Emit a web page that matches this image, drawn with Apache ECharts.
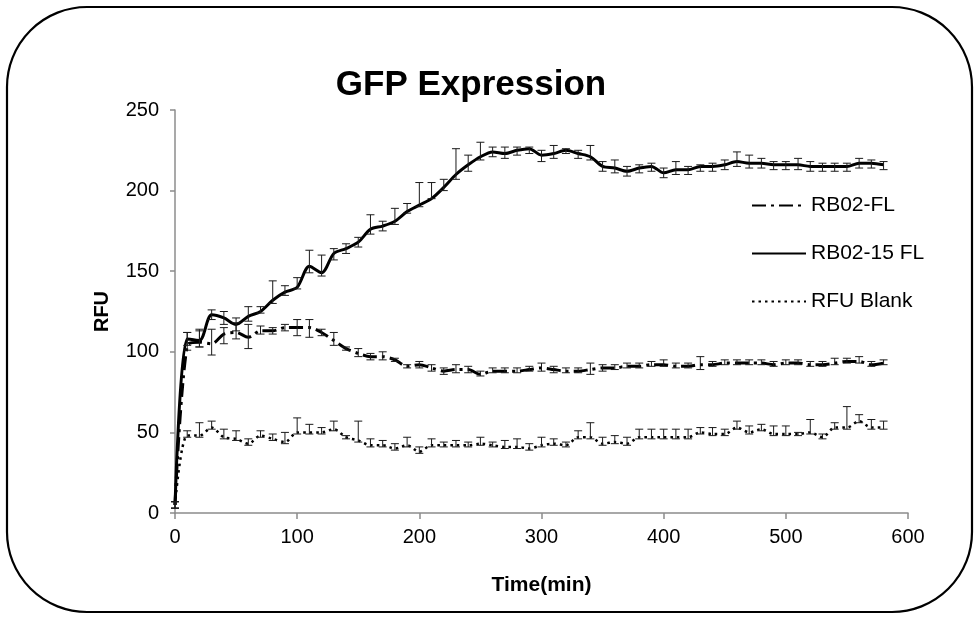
<!DOCTYPE html>
<html>
<head>
<meta charset="utf-8">
<script src="https://cdn.jsdelivr.net/npm/echarts@6/dist/echarts.min.js"></script>
<style>
html,body{margin:0;padding:0;background:#fff;}
#chart{width:976px;height:622px;}
</style>
</head>
<body>
<div id="chart"></div>
<script>
const times = [0,10,20,30,40,50,60,70,80,90,
  100,110,120,130,140,150,160,170,180,190,
  200,210,220,230,240,250,260,270,280,290,
  300,310,320,330,340,350,360,370,380,390,
  400,410,420,430,440,450,460,470,480,490,
  500,510,520,530,540,550,560,570,580];

const seriesNames = ['RB02-FL', 'RB02-15 FL', 'RFU Blank'];

const rb02FL = [5,104,106,105,111,112,109,113,113,115,
  115,115,112,107,102,99,97,97,95,91,
  92,90,88,89,89,86,88,88,88,89,
  90,89,88,88,89,90,90,91,91,92,
  92,91,91,92,92,93,93,93,93,92,
  93,93,92,92,93,94,94,92,93];
const rb02FLHi = [2,8,8,9,4,6,8,3,2,2,
  5,5,2,5,1,3,2,3,1,1,
  2,2,2,3,2,2,2,2,2,2,
  3,2,2,2,4,2,2,2,2,2,
  3,2,2,5,2,2,2,2,2,2,
  2,2,2,2,3,2,3,2,2];
const rb02FLLo = [2,3,3,7,6,4,7,2,2,2,
  5,6,2,3,1,2,2,2,1,1,
  2,2,2,2,2,1,1,1,1,1,
  2,2,1,1,3,2,1,1,1,1,
  1,1,1,3,1,1,1,1,1,1,
  1,1,1,1,1,1,1,1,1];

const rb0215FL = [5,108,107,123,121,117,122,125,132,137,
  140,153,149,161,164,168,176,178,181,187,
  191,195,202,210,216,221,224,223,225,226,
  222,223,225,223,221,215,214,212,214,215,
  211,213,213,215,215,216,218,217,217,216,
  216,216,215,215,215,215,217,217,216];
const rb0215FLHi = [2,4,6,3,4,4,6,3,12,4,
  6,10,11,3,3,3,9,3,8,5,
  14,10,5,16,6,9,3,4,2,1,
  3,5,1,2,7,3,5,3,2,2,
  3,5,2,1,2,3,6,5,3,2,
  2,4,3,2,2,2,3,2,2];
const rb0215FLLo = [2,4,4,3,4,4,3,1,2,2,
  1,4,2,4,3,3,3,3,2,1,
  1,0,2,3,4,2,3,3,3,3,
  4,3,2,3,2,3,3,3,3,3,
  3,3,3,3,3,3,3,3,3,3,
  3,3,3,3,3,3,3,3,3];

const blank = [5,48,48,53,47,46,43,48,46,44,
  50,50,50,52,47,45,42,42,40,42,
  38,42,42,42,42,43,42,41,41,40,
  42,43,42,47,47,43,44,43,47,47,
  47,47,47,50,49,49,53,50,52,49,
  49,49,50,47,53,53,57,53,53];
const blankHi = [2,3,8,4,5,5,3,3,3,6,
  9,5,3,5,1,12,4,3,3,5,
  3,4,2,3,2,4,2,4,5,3,
  5,3,2,4,9,4,4,4,5,5,
  5,5,5,3,4,3,4,4,3,5,
  5,1,8,2,3,13,4,5,4];
const blankLo = [2,1,1,1,1,1,1,1,1,1,
  1,1,1,1,1,1,1,1,1,1,
  1,1,1,1,1,1,1,1,1,1,
  1,1,1,1,1,1,1,1,1,1,
  1,1,1,1,1,1,1,1,1,1,
  1,1,1,1,1,1,1,1,1];

const xTicks = [0,100,200,300,400,500,600];
const yTicks = [0,50,100,150,200,250];

const FONT = '"Liberation Sans", Arial, sans-serif';

function pts(vals){ return times.map((t,i)=>[t, vals[i]]); }
function errData(vals, hi, lo){ return times.map((t,i)=>[t, vals[i]-lo[i], vals[i]+hi[i]]); }

function errSeries(vals, hi, lo){
  return {
    type: 'custom',
    silent: true,
    z: 5,
    data: errData(vals, hi, lo),
    encode: {x: 0, y: [1, 2]},
    renderItem: function(params, api){
      const x = api.value(0);
      const top = api.coord([x, api.value(2)]);
      const bot = api.coord([x, api.value(1)]);
      const w = 4;
      const st = {stroke: '#1a1a1a', lineWidth: 1};
      return {type: 'group', children: [
        {type: 'line', shape: {x1: top[0], y1: top[1], x2: bot[0], y2: bot[1]}, style: st},
        {type: 'line', shape: {x1: top[0]-w, y1: top[1], x2: top[0]+w, y2: top[1]}, style: st},
        {type: 'line', shape: {x1: bot[0]-w, y1: bot[1], x2: bot[0]+w, y2: bot[1]}, style: st}
      ]};
    }
  };
}

const chart = echarts.init(document.getElementById('chart'), null, {renderer: 'canvas'});
chart.setOption({
  animation: false,
  backgroundColor: '#fff',
  textStyle: {fontFamily: FONT},
  title: {
    text: 'GFP Expression',
    left: 466, top: 63, textAlign: 'center',
    textStyle: {fontFamily: FONT, fontSize: 35, fontWeight: 'bold', color: '#000'}
  },
  graphic: [{
    type: 'rect', silent: true, z: 100,
    shape: {x: 7, y: 7, width: 965, height: 605, r: 80},
    style: {fill: 'none', stroke: '#000', lineWidth: 2.2}
  }],
  legend: {
    orient: 'vertical',
    left: 746, top: 190,
    itemWidth: 54, itemHeight: 14, itemGap: 27,
    data: seriesNames,
    itemStyle: {opacity: 0},
    textStyle: {fontFamily: FONT, fontSize: 21, color: '#000'}
  },
  grid: {left: 175, right: 68, top: 110, bottom: 109},
  xAxis: {
    type: 'value', min: xTicks[0], max: xTicks[xTicks.length-1], interval: 100,
    name: 'Time(min)', nameLocation: 'middle', nameGap: 62,
    nameTextStyle: {fontFamily: FONT, fontSize: 21, fontWeight: 'bold', color: '#000'},
    axisLine: {lineStyle: {color: '#8c8c8c', width: 1.5}},
    axisTick: {show: true, length: 6, lineStyle: {color: '#8c8c8c', width: 1.5}},
    axisLabel: {fontFamily: FONT, fontSize: 20, color: '#000', margin: 14},
    splitLine: {show: false}
  },
  yAxis: {
    type: 'value', min: yTicks[0], max: yTicks[yTicks.length-1], interval: 50,
    name: 'RFU', nameLocation: 'middle', nameGap: 63, nameRotate: 90,
    nameTextStyle: {fontFamily: FONT, fontSize: 20, fontWeight: 'bold', color: '#000'},
    axisLine: {show: true, lineStyle: {color: '#8c8c8c', width: 1.5}},
    axisTick: {show: true, length: 5, lineStyle: {color: '#8c8c8c', width: 1.5}},
    axisLabel: {fontFamily: FONT, fontSize: 20, color: '#000', margin: 16},
    splitLine: {show: false}
  },
  series: [
    {
      name: seriesNames[0], type: 'line', data: pts(rb02FL), smooth: 0.3,
      symbol: 'none', z: 3,
      lineStyle: {color: '#000', width: 3, type: [14, 5, 3, 5]},
      itemStyle: {color: '#000'}
    },
    {
      name: seriesNames[1], type: 'line', data: pts(rb0215FL), smooth: 0.3,
      symbol: 'none', z: 3,
      lineStyle: {color: '#000', width: 3, type: 'solid'},
      itemStyle: {color: '#000'}
    },
    {
      name: seriesNames[2], type: 'line', data: pts(blank), smooth: 0.3,
      symbol: 'none', z: 3,
      lineStyle: {color: '#000', width: 2.5, type: [2.5, 4]},
      itemStyle: {color: '#000'}
    },
    errSeries(rb02FL, rb02FLHi, rb02FLLo),
    errSeries(rb0215FL, rb0215FLHi, rb0215FLLo),
    errSeries(blank, blankHi, blankLo)
  ]
});
</script>
</body>
</html>
